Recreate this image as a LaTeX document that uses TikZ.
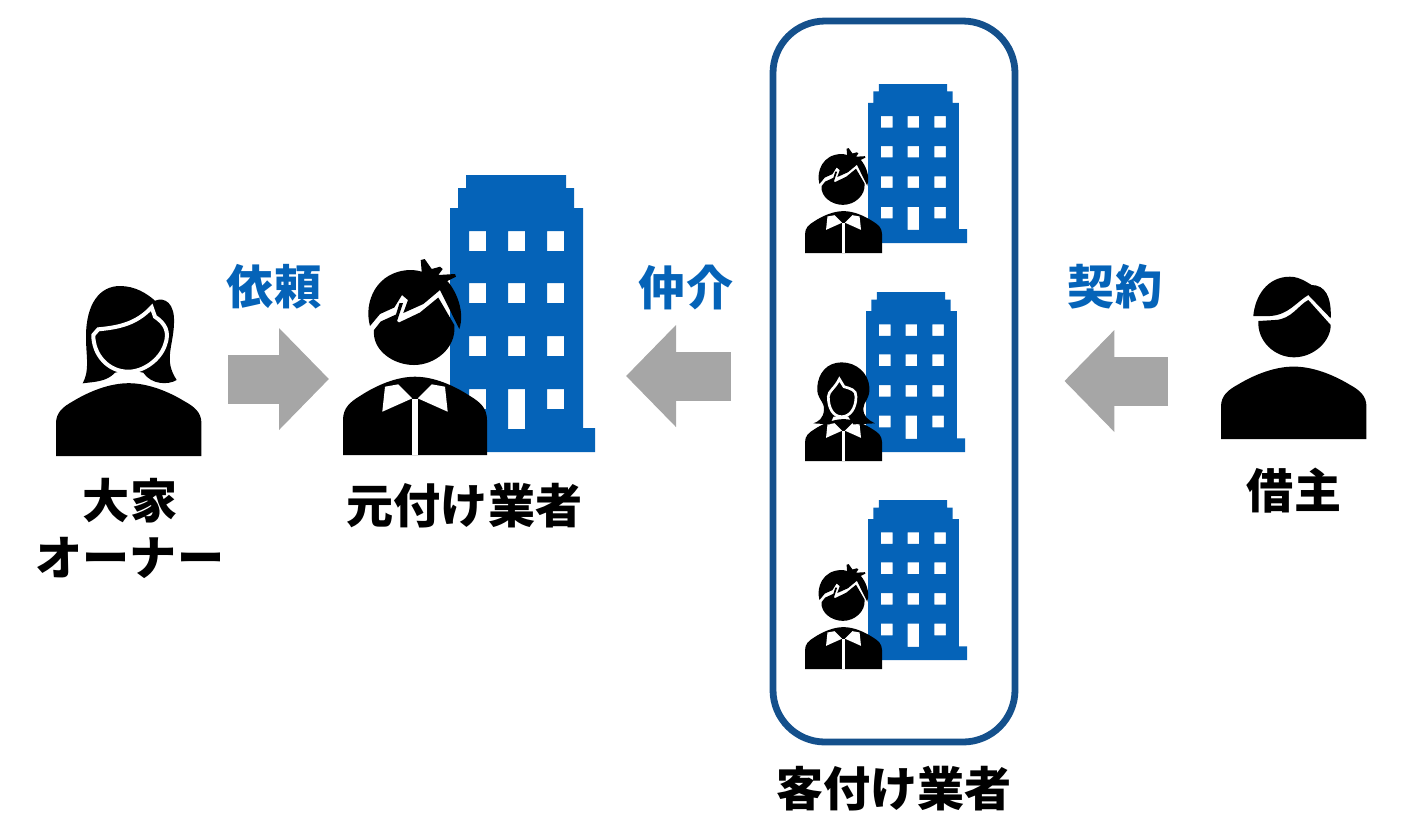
\documentclass[tikz,border=0pt]{standalone}
\usepackage{fontspec}
\setmainfont{Noto Sans CJK JP}
\usepackage{xcolor}
\usetikzlibrary{arrows.meta,positioning,calc}
\definecolor{buildblue}{HTML}{0563B8}
\definecolor{framenavy}{HTML}{14508C}
\definecolor{arrowgray}{HTML}{A6A6A6}
\newcommand{\bustshape}[1]{%
  \fill[#1] (0,0) -- (0,-35) .. controls (0,-47) and (7,-53) .. (17,-59)
    .. controls (33.7,-70) and (53.7,-78.3) .. (72,-78.3)
    .. controls (90.3,-78.3) and (110.3,-70) .. (127,-59)
    .. controls (137,-53) and (144,-47) .. (144,-35) -- (144,0) -- cycle;}
\newcommand{\collarshape}{%
  \fill[white] (42,-68.3) -- (55.3,-70.7) -- (69.3,-56.7) -- (39.3,-43.3) -- cycle;
  \fill[white] (102,-68.3) -- (88.7,-70.7) -- (74.7,-56.7) -- (104.7,-43.3) -- cycle;
  \fill[white] (69.4,-56) rectangle (74.6,0);}
\tikzset{
  figbox/.style={inner sep=0pt,outer sep=0pt},
  groupframe/.style={draw=framenavy,line width=0.68mm,rounded corners=5.2mm,inner sep=0pt,
    minimum width=2.42cm,minimum height=7.21cm},
  namelabel/.style={font=\fontsize{13.4}{16}\selectfont\bfseries,align=center,inner sep=0pt},
  actionlabel/.style={font=\fontsize{13.4}{16}\selectfont\bfseries,text=buildblue,inner sep=0pt},
  blockarrow/.style={draw=arrowgray,line width=4.9mm,-{Triangle[length=5mm,width=9.9mm]}},
  officeblock/.pic={
    \fill[buildblue,even odd rule]
      (16,0) -- (116,0) -- (116,13) -- (124,13) -- (124,33) -- (133,33) -- (133,253)
      -- (145,253) -- (145,277) -- (0,277) -- (0,33) -- (8,33) -- (8,13) -- (16,13) -- cycle
      (58,214) rectangle (75,254)
      \foreach \wy in {56,108,161,214} {(19,\wy) rectangle (36,\wy+20) (97,\wy) rectangle (114,\wy+20)}
      \foreach \wy in {56,108,161} {(58,\wy) rectangle (75,\wy+20)};
  },
  spikyman/.pic={
    \bustshape{black}
    \collarshape
    \fill (27,-129) .. controls (20.3,-153.3) and (33.7,-184) .. (67,-185)
      .. controls (71,-185) and (75,-184.5) .. (78.7,-183.3)
      -- (77.7,-195) -- (81.7,-196) -- (88.7,-186) -- (97,-188.3) -- (99.7,-186) -- (95.3,-180)
      -- (112,-181) -- (113,-178.3) -- (104.3,-174)
      .. controls (113.7,-163.3) and (122,-143.3) .. (116.3,-126)
      -- (97,-165) -- (80.3,-151) -- (60.3,-142) -- (65,-155) -- (59,-160)
      -- (51.3,-147.5) -- (37,-141) -- cycle;
    \fill (31,-125) -- (37.7,-133.5) -- (53,-140.5) -- (56.5,-152) -- (60,-152)
      -- (54,-134) -- (56,-132.5) -- (77,-142.5) -- (95.3,-157.5) -- (111.3,-130)
      .. controls (113.7,-107) and (92,-90) .. (71,-90)
      .. controls (50,-90) and (29,-105) .. (31,-125) -- cycle;
  },
  longhair/.pic={
    \bustshape{black}
    \collarshape
    \fill (68.5,-184.4) .. controls (40.5,-184.4) and (25,-163.8) .. (23,-138.9)
      .. controls (20.5,-117.1) and (37.4,-110.9) .. (35.5,-95.3)
      .. controls (34.3,-79.7) and (25,-73.5) .. (15.6,-70.4)
      -- (46.7,-68.5) -- (53,-82.8) -- (81,-82.8) -- (90.3,-68.5) -- (130.8,-70.4)
      .. controls (118.4,-76.6) and (109,-82.8) .. (109,-98.4)
      .. controls (109,-110.9) and (122.7,-117.1) .. (120.2,-138.9)
      .. controls (118.4,-163.8) and (96.6,-184.4) .. (68.5,-184.4) -- cycle;
    \filldraw[draw=white,line width=0.27mm] (64.2,-153.2) -- (72.9,-138.9)
      .. controls (84,-135.8) and (96.6,-132.7) .. (95.3,-120.2)
      .. controls (95.3,-98.4) and (84,-82.8) .. (68.5,-82.8)
      .. controls (53,-82.8) and (43.6,-98.4) .. (43.6,-120.2)
      .. controls (43.6,-130.8) and (56,-135.8) .. (64.2,-153.2) -- cycle;
  },
  ownerwoman/.pic={
    \begin{scope}[xscale=1.01,yscale=.93]\bustshape{black}\end{scope}
    \fill (26.7,-72.7) .. controls (34,-86) and (30,-99.3) .. (30,-119.3)
      .. controls (30,-152.7) and (44,-170) .. (64,-170)
      .. controls (79,-170) and (90.7,-162.7) .. (99,-155.3)
      .. controls (109,-159.3) and (119,-152.7) .. (118,-132.7)
      .. controls (117.3,-109.3) and (107.3,-96) .. (120.7,-76)
      .. controls (112.3,-71) and (95.7,-71) .. (87.3,-83.3)
      -- (72.3,-86.7) -- (59,-83.3)
      .. controls (50.7,-74.3) and (39,-74.3) .. (26.7,-72.7) -- cycle;
    \filldraw[draw=white,line width=0.4mm] (37.3,-121) -- (42.3,-126.7)
      .. controls (64,-128.7) and (80.7,-132.7) .. (95.7,-148.7) -- (99,-139.3)
      .. controls (109,-132.7) and (114,-124.3) .. (109,-111)
      .. controls (104,-96) and (87.3,-84.3) .. (72.3,-84.3)
      .. controls (52.3,-84.3) and (37.3,-101) .. (37.3,-121) -- cycle;
  },
  tenantman/.pic={
    \begin{scope}[xscale=1.01,yscale=.925]\bustshape{black}\end{scope}
    \fill (32.3,-123) .. controls (34,-142.3) and (45.7,-162.3) .. (69,-162.3)
      .. controls (79,-162.3) and (87.3,-155.7) .. (90.7,-154)
      .. controls (104,-154) and (110.7,-142.3) .. (109.7,-120.7)
      -- (87.3,-144) .. controls (75.7,-137.3) and (67.3,-124) .. (49,-123) -- cycle;
    \fill (37.3,-118) -- (54,-119) .. controls (70.7,-119.7) and (77.3,-134) .. (87.3,-139)
      -- (109.7,-114) .. controls (109.7,-97.3) and (92.3,-81.7) .. (73,-81.7)
      .. controls (54,-81.7) and (36.3,-97.3) .. (37.3,-118) -- cycle;
  }
}
\begin{document}
\begin{tikzpicture}[x=0.1mm,y=-0.1mm]
  \useasboundingbox (0,0) rectangle (1410,838);
  \node[figbox,minimum width=14.6mm,minimum height=15.4mm] (owner) at (129,379) {};
  \node[figbox,minimum width=25.2mm,minimum height=15.2mm] (motozuke) at (469,379) {};
  \node[groupframe] (kyaku) at (894,381.5) {};
  \node[figbox,minimum width=14.6mm,minimum height=11.8mm] (karinushi) at (1294,381) {};

  \pic at (56,456) {ownerwoman};
  \pic at (450,175) {officeblock};
  \pic at (343,455) {spikyman};
  \pic at (1221,439) {tenantman};

  \pic[xscale=.683,yscale=.574] at (868,84) {officeblock};
  \pic[scale=.535] at (805,253) {spikyman};
  \pic[xscale=.683,yscale=.578] at (866,292) {officeblock};
  \pic[scale=.535] at (805,461) {longhair};
  \pic[xscale=.683,yscale=.578] at (868,500) {officeblock};
  \pic[scale=.535] at (805,669) {spikyman};

  \node[namelabel,below=2.2mm of owner,xshift=0.1mm] (ownername) {大家\\オーナー};
  \node[namelabel,below=2.7mm of motozuke,xshift=-0.45mm] (motozukename) {元付け業者};
  \node[namelabel,below=2mm of kyaku] (kyakuname) {客付け業者};
  \node[namelabel,below=2.7mm of karinushi] (karinushiname) {借主};

  \node[actionlabel] (irai) at (274,287) {依頼};
  \node[actionlabel] (chukai) at (686,287) {仲介};
  \node[actionlabel] (keiyaku) at (1115,287) {契約};

  \draw[blockarrow] ([xshift=2.6mm]owner.east) -- ([xshift=-1.4mm]motozuke.west);
  \draw[blockarrow] ([xshift=-3.9mm,yshift=0.55mm]kyaku.west) -- ([xshift=3.1mm,yshift=0.3mm]motozuke.east);
  \draw[blockarrow] ([xshift=-5.3mm]karinushi.west) -- ([xshift=4.6mm,yshift=0.05mm]kyaku.east);
\end{tikzpicture}
\end{document}
